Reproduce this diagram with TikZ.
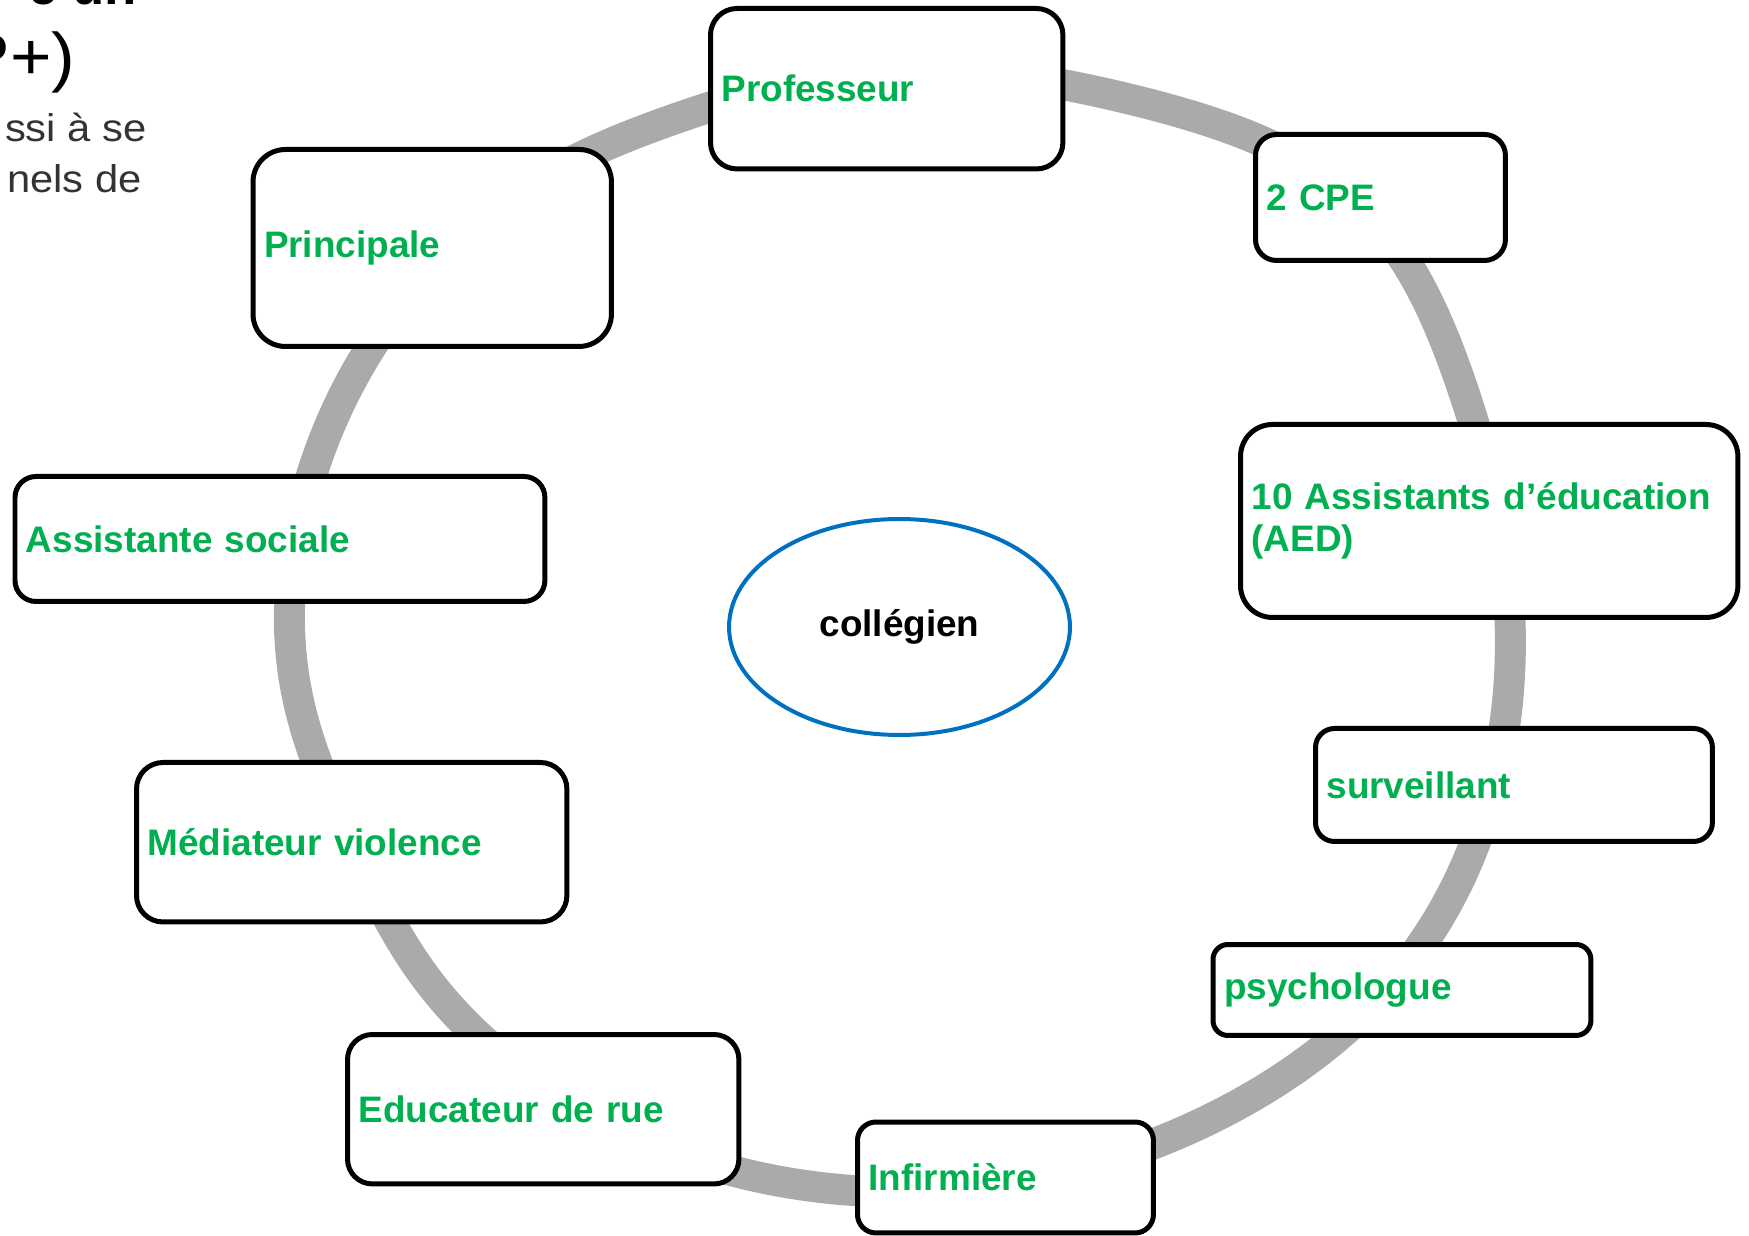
\documentclass[tikz,border=0pt]{standalone}
\usepackage{fontspec}
\setmainfont{Liberation Sans}
\newfontfamily\fragfont[FakeStretch=1.08]{Liberation Sans}
\usepackage{tikz}
\usetikzlibrary{shapes.geometric}
\definecolor{staffgreen}{HTML}{00B050}
\definecolor{hubblue}{HTML}{0070C0}
\definecolor{ringgray}{HTML}{AAAAAA}

\begin{document}
\begin{tikzpicture}[x=0.02cm, y=-0.02cm,
        declare function={bump(\t,\c,\w)=exp(max(-9,-((\t-\c)/\w)*((\t-\c)/\w)));
            rho(\t)=1+0.07*bump(\t,406,19)+0.025*bump(\t,325,25)-0.027*bump(\t,203,15)
                -0.02*bump(\t,110,15)-0.02*bump(\t,470,15);},
        staff/.style = {draw, line width=0.1cm, fill=white, anchor=north west, align=left,
            inner xsep=0.22cm, inner ysep=0pt, text=staffgreen,
            font=\fontsize{21}{24}\selectfont\bfseries},
        hub/.style = {draw=hubblue, ellipse, line width=0.08cm, fill=white, inner sep=0pt,
            minimum width=6.82cm, minimum height=4.32cm, font=\fontsize{21}{24}\selectfont\bfseries},
        ring/.style = {draw=ringgray, line width=0.62cm},
        frag/.style = {anchor=base east, inner sep=0pt}]
    \useasboundingbox (0,0) rectangle (1749,1236);
    \clip (0,0) rectangle (1749,1236);

    % bits of the slide text behind
    \node[frag, font=\fontsize{30}{30}\selectfont\bfseries] (f1) at (137,5) {e un};
    \node[frag, font=\fontsize{37.5}{37.5}\fragfont] (f2) at (76,80) {P+)};
    \node[frag, text=black!80, font=\fontsize{22}{22}\fragfont] (f3) at (147,142) {ssi à se};
    \node[frag, text=black!80, font=\fontsize{22}{22}\fragfont] (f4) at (142,193) {nels de};

    % the circle of people round the pupil
    \coordinate (c) at (898,630);
    \draw[ring] plot [domain=90:450, samples=181, smooth]
        ({898+610*rho(\x)*cos(\x)}, {630-562*rho(\x)*sin(\x)}) -- cycle;

    \node[staff, rounded corners=0.53cm, text width=6.61cm, minimum height=3.21cm] (prof) at (708,6) {Professeur};
    \node[staff, rounded corners=0.42cm, text width=4.56cm, minimum height=2.52cm] (cpe) at (1253,132) {2 CPE};
    \node[staff, rounded corners=0.64cm, text width=9.51cm, minimum height=3.86cm] (aed) at (1238,422) {10 Assistants d’éducation\\(AED)};
    \node[staff, rounded corners=0.38cm, text width=7.50cm, minimum height=2.26cm] (surv) at (1313,726) {surveillant};
    \node[staff, rounded corners=0.30cm, text width=7.12cm, minimum height=1.82cm] (psy) at (1210.5,942) {psychologue};
    \node[staff, rounded corners=0.37cm, text width=5.48cm, minimum height=2.22cm] (inf) at (855,1119.5) {Infirmière};
    \node[staff, rounded corners=0.50cm, text width=7.39cm, minimum height=2.99cm] (educ) at (345,1032) {Educateur de rue};
    \node[staff, rounded corners=0.53cm, text width=8.17cm, minimum height=3.19cm] (med) at (134,760) {Médiateur violence};
    \node[staff, rounded corners=0.42cm, text width=10.16cm, minimum height=2.50cm] (soc) at (12.5,474) {Assistante sociale};
    \node[staff, rounded corners=0.65cm, text width=6.73cm, minimum height=3.94cm] (prin) at (250.5,147) {Principale};

    \node[hub] (eleve) at (899.5,627) {collégien};
\end{tikzpicture}
\end{document}
